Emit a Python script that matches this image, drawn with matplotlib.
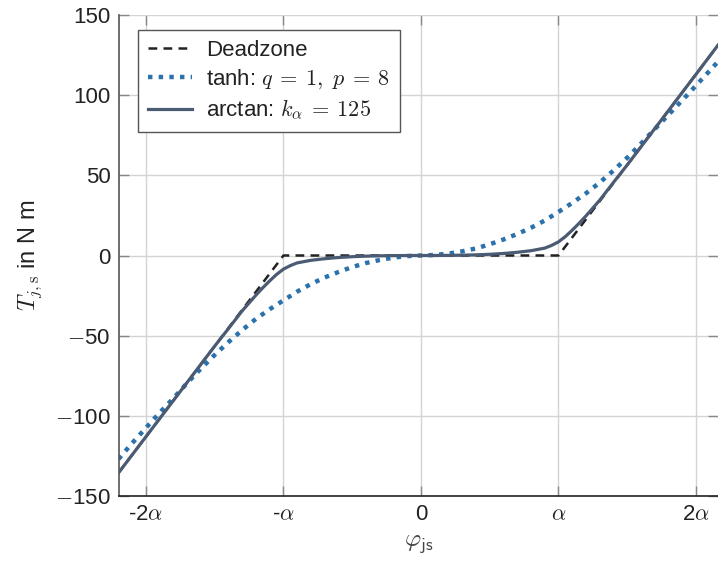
import matplotlib
matplotlib.use("Agg")
import matplotlib.pyplot as plt
from matplotlib.ticker import FuncFormatter

# ---- data (x in units of alpha, torque in N m) ----
x_dead = [-2.2, -1.0, 1.0, 2.16]
y_dead = [-135.6, 0.0, 0.0, 131.1]

x_tanh = [-2.2, -2.1, -2.0, -1.9, -1.8, -1.7, -1.6, -1.5, -1.4, -1.3, -1.2, -1.1,
          -1.0, -0.9, -0.8, -0.7, -0.6, -0.5, -0.4, -0.3, -0.2, -0.1, 0.0,
          0.1, 0.2, 0.3, 0.4, 0.5, 0.6, 0.7, 0.8, 0.9, 1.0, 1.1, 1.2, 1.3,
          1.4, 1.5, 1.6, 1.7, 1.8, 1.9, 2.0, 2.1, 2.16]
y_tanh = [-127.0, -117.0, -107.5, -98.0, -89.0, -79.5, -70.5, -62.0, -54.0, -46.5, -39.5, -33.5,
          -28.0, -22.5, -17.8, -13.7, -10.3, -7.2, -4.7, -2.8, -1.3, -0.35, 0.0,
          0.3, 1.2, 2.6, 4.4, 7.0, 10.0, 13.4, 17.3, 21.8, 27.2, 32.8, 38.8, 45.5,
          53.0, 61.0, 69.8, 78.8, 87.8, 96.8, 106.0, 115.3, 120.9]

x_atan = [-2.2, -2.0, -1.8, -1.6, -1.5, -1.4, -1.3, -1.2, -1.15, -1.1, -1.05,
          -1.0, -0.95, -0.9, -0.8, -0.7, -0.6, -0.5, -0.4, -0.3, -0.2, -0.1, 0.0,
          0.1, 0.2, 0.3, 0.4, 0.5, 0.6, 0.7, 0.8, 0.9, 0.95, 1.0, 1.05, 1.1,
          1.15, 1.2, 1.3, 1.4, 1.5, 1.6, 1.8, 2.0, 2.16]
y_atan = [-135.6, -113.0, -90.4, -67.8, -56.5, -45.6, -34.5, -24.7, -20.1, -15.8, -11.8,
          -8.5, -6.3, -4.6, -3.0, -2.0, -1.25, -0.75, -0.4, -0.2, -0.08, -0.02, 0.0,
          0.02, 0.08, 0.2, 0.4, 0.75, 1.25, 2.0, 3.0, 4.6, 6.3, 8.5, 11.8, 15.8,
          20.1, 24.7, 34.5, 45.6, 56.5, 67.8, 90.4, 113.0, 131.2]

xticks = [-2, -1, 0, 1, 2]
xticklabels = [r'-2$\alpha$', r'-$\alpha$', '0', r'$\alpha$', r'2$\alpha$']
yticks = [-150, -100, -50, 0, 50, 100, 150]

plt.rcParams['font.family'] = ['Liberation Sans', 'DejaVu Sans']
plt.rcParams['mathtext.fontset'] = 'cm'
plt.rcParams['font.size'] = 16

fig = plt.figure(figsize=(7.18, 5.65), dpi=100)
ax = fig.add_axes([119/718, 1 - 496/565, 1 - 119/718, (496 - 15)/565])

ax.plot(x_dead, y_dead, color='#222222', lw=1.8, linestyle=(0, (3.5, 2.5)),
        label='Deadzone', zorder=3)
ax.plot(x_tanh, y_tanh, color='#2b71ab', lw=3.2, linestyle=(0, (1, 1.4)),
        dash_capstyle='butt', label=r'tanh: $q \:=\: 1,\ p \:=\: 8$', zorder=2)
ax.plot(x_atan, y_atan, color='#4a5b73', lw=2.3,
        label=r'arctan: $k_\alpha \:=\: 125$', zorder=4)

ax.set_xlim(-2.196, 2.16)
ax.set_ylim(-150, 150)
ax.set_xticks(xticks)
ax.set_xticklabels(xticklabels)
ax.set_yticks(yticks)
ax.yaxis.set_major_formatter(FuncFormatter(
    lambda v, p: (r'$-$' + f'{abs(v):.0f}') if v < 0 else f'{v:.0f}'))

ax.grid(True, color='#d4d4d4', lw=1.0)
ax.set_axisbelow(True)
for s in ['top', 'right']:
    ax.spines[s].set_visible(False)
ax.spines['left'].set_color('#555555')
ax.spines['bottom'].set_color('#222222')
ax.spines['left'].set_linewidth(1.2)
ax.spines['bottom'].set_linewidth(1.2)
ax.tick_params(direction='in', length=7, width=1, color='#888888',
               top=True, right=True, labelsize=16, pad=6, labelcolor='#222222')

ax.set_xlabel(r'$\varphi_{\mathsf{js}}$', fontsize=18, color='#444444', labelpad=4)
ax.set_ylabel(r'$T_{j,\mathrm{s}}$ in N m', fontsize=17, color='#222222', labelpad=8)

leg = ax.legend(loc='upper left', bbox_to_anchor=(0.0317, 0.969), borderaxespad=0,
                fancybox=False, edgecolor='#555555', framealpha=1, fontsize=16,
                handlelength=2.0, handletextpad=0.6, labelspacing=0.3,
                borderpad=0.45)
leg.get_frame().set_linewidth(1.0)
for t in leg.get_texts():
    t.set_color('#222222')

fig.savefig('out.png', dpi=100)
